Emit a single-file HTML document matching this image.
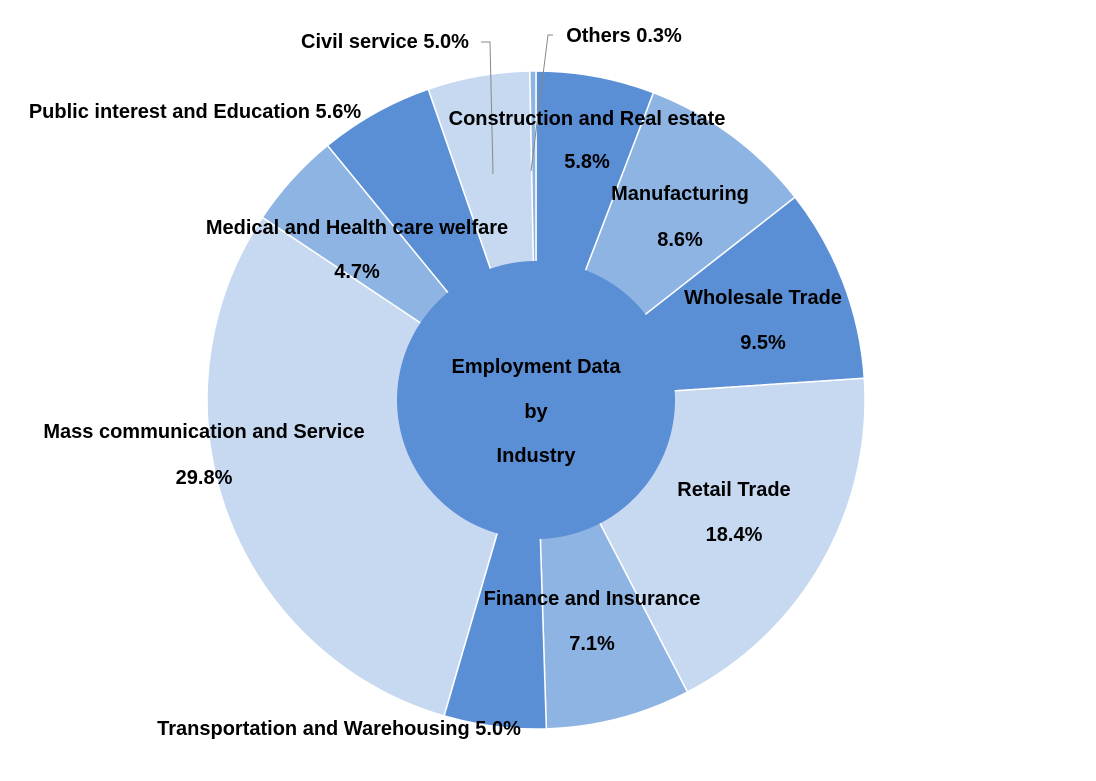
<!DOCTYPE html>
<html><head><meta charset="utf-8"><style>
html,body{margin:0;padding:0;background:#fff;}
svg{display:block;}
text{font-family:"Liberation Sans",sans-serif;font-weight:bold;font-size:20px;fill:#000;}
</style></head><body>
<svg id="chart" width="1096" height="781" viewBox="0 0 1096 781">
<g id="slices"></g>
<circle cx="536" cy="400" r="139" fill="#5A8ED5"/>
<text x="536" y="373" text-anchor="middle">Employment Data</text>
<text x="536" y="418" text-anchor="middle">by</text>
<text x="536" y="462" text-anchor="middle">Industry</text>
<polyline points="481,42 490,42 493,174" fill="none" stroke="#888" stroke-width="1"/>
<polyline points="553,35 548,35 531,171" fill="none" stroke="#888" stroke-width="1"/>
<g id="labels"></g>
</svg>
<script>
const categories = ["Construction and Real estate","Manufacturing","Wholesale Trade","Retail Trade","Finance and Insurance","Transportation and Warehousing","Mass communication and Service","Medical and Health care welfare","Public interest and Education","Civil service","Others"];
const values = [5.8,8.6,9.5,18.4,7.1,5.0,29.8,4.7,5.6,5.0,0.3];
const valueLabels = ["5.8%","8.6%","9.5%","18.4%","7.1%","5.0%","29.8%","4.7%","5.6%","5.0%","0.3%"];
const colors = ["#5A8ED5","#8EB4E3","#5A8ED5","#C6D9F1","#8EB4E3","#5A8ED5","#C6D9F1","#8EB4E3","#5A8ED5","#C6D9F1","#8EB4E3"];
// label layout: [x, y1, y2 (or null for single-line), anchor, singleLine]
const labelPos = [
 [587,125,168,"middle",false],[680,200,246,"middle",false],[763,304,349,"middle",false],
 [734,496,541,"middle",false],[592,605,650,"middle",false],[339,735,null,"middle",true],
 [204,438,484,"middle",false],[357,234,278,"middle",false],[195,118,null,"middle",true],
 [385,48,null,"middle",true],[624,42,null,"middle",true]];
const cx=536, cy=400, R=329, r0=135;
const total = values.reduce((a,b)=>a+b,0);
const angle = v => v/total*2*Math.PI;
const pt = (a,rad)=>[cx+rad*Math.sin(a), cy-rad*Math.cos(a)];
const ns="http://www.w3.org/2000/svg";
const g=document.getElementById('slices'), lg=document.getElementById('labels');
let a0=0;
values.forEach((v,i)=>{
  const a1=a0+angle(v);
  const [x0,y0]=pt(a0,R),[x1,y1]=pt(a1,R),[x2,y2]=pt(a1,r0),[x3,y3]=pt(a0,r0);
  const large=(a1-a0)>Math.PI?1:0;
  const p=document.createElementNS(ns,'path');
  p.setAttribute('d',`M${x3},${y3} L${x0},${y0} A${R},${R} 0 ${large} 1 ${x1},${y1} L${x2},${y2} A${r0},${r0} 0 ${large} 0 ${x3},${y3} Z`);
  p.setAttribute('fill',colors[i]);
  p.setAttribute('stroke','#fff');
  p.setAttribute('stroke-width','1.5');
  
  
  g.appendChild(p);
  a0=a1;
  const L=labelPos[i];
  const t=document.createElementNS(ns,'text');
  t.setAttribute('x',L[0]); t.setAttribute('y',L[1]); t.setAttribute('text-anchor',L[3]);
  t.textContent = L[4] ? categories[i]+" "+valueLabels[i] : categories[i];
  
  
  lg.appendChild(t);
  if(!L[4]){
    const t2=document.createElementNS(ns,'text');
    t2.setAttribute('x',L[0]); t2.setAttribute('y',L[2]); t2.setAttribute('text-anchor',L[3]);
    t2.textContent=valueLabels[i];
    
    
    lg.appendChild(t2);
  }
});
</script>
</body></html>
